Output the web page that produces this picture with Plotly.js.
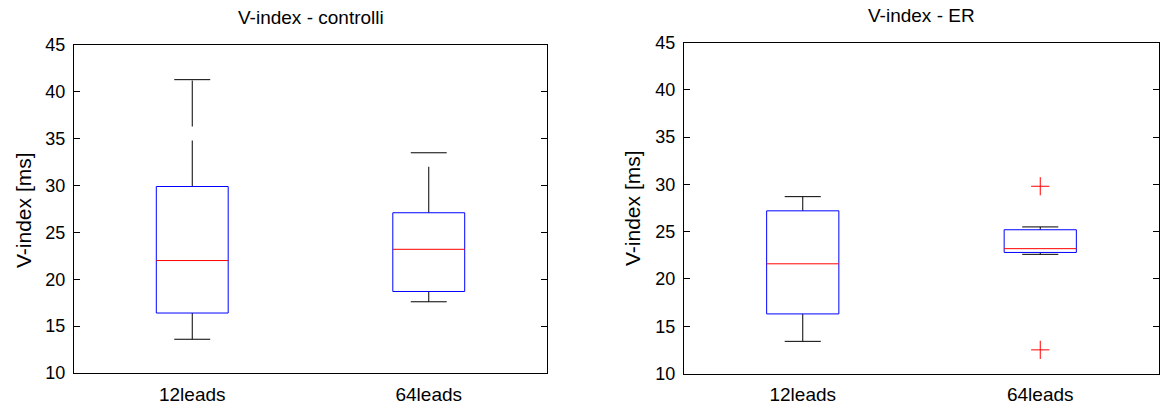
<!DOCTYPE html>
<html>
<head>
<meta charset="utf-8">
<script src="https://cdn.plot.ly/plotly-3.0.1.min.js"></script>
<style>html,body{margin:0;padding:0;background:#fff;}#chart{width:1160px;height:416px;}</style>
</head>
<body>
<div id="chart"></div>
<script>
// ---- data ----
const categories = ['12leads', '64leads'];
const panelTitles = ['V-index - controlli', 'V-index - ER'];
const yTitle = 'V-index [ms]';

// controlli
const ctrlLow    = [13.6, 17.6];
const ctrlQ1     = [16.4, 18.7];
const ctrlMedian = [22.0, 23.2];
const ctrlQ3     = [29.9, 27.1];
const ctrlHigh   = [41.3, 33.5];
const ctrlOutX   = [];
const ctrlOutY   = [];

// ER
const erLow    = [13.4, 22.6];
const erQ1     = [16.3, 22.8];
const erMedian = [21.6, 23.2];
const erQ3     = [27.2, 25.2];
const erHigh   = [28.7, 25.5];
const erOutX   = ['64leads', '64leads'];
const erOutY   = [29.8, 12.5];

// ---- build ----
const BOX_HW = 0.152, CAP_HW = 0.076;
const traces = [];
function addPanel(low, q1, med, q3, high, outX, outY, xa, ya) {
  categories.forEach((c, i) => {
    const p = i + 1;
    traces.push({x: [p, p], y: [q3[i], high[i]], xaxis: xa, yaxis: ya, mode: 'lines',
      line: {color: '#000', width: 1, dash: '46px,14px'}, hoverinfo: 'skip', showlegend: false});
    traces.push({x: [p, p], y: [q1[i], low[i]], xaxis: xa, yaxis: ya, mode: 'lines',
      line: {color: '#000', width: 1, dash: '46px,14px'}, hoverinfo: 'skip', showlegend: false});
    traces.push({x: [p - CAP_HW, p + CAP_HW, null, p - CAP_HW, p + CAP_HW],
      y: [high[i], high[i], null, low[i], low[i]], xaxis: xa, yaxis: ya, mode: 'lines',
      line: {color: '#000', width: 1}, hoverinfo: 'skip', showlegend: false});
    traces.push({x: [p - BOX_HW, p + BOX_HW, p + BOX_HW, p - BOX_HW, p - BOX_HW],
      y: [q1[i], q1[i], q3[i], q3[i], q1[i]], xaxis: xa, yaxis: ya, mode: 'lines',
      line: {color: '#0000ff', width: 1}, hoverinfo: 'skip', showlegend: false});
    traces.push({x: [p - BOX_HW, p + BOX_HW], y: [med[i], med[i]], xaxis: xa, yaxis: ya, mode: 'lines',
      line: {color: '#ff0000', width: 1}, hoverinfo: 'skip', showlegend: false});
  });
  if (outX.length) {
    traces.push({x: outX.map(c => categories.indexOf(c) + 1), y: outY, xaxis: xa, yaxis: ya,
      mode: 'markers', marker: {symbol: 'cross-thin', size: 13, line: {color: '#ff0000', width: 1}},
      hoverinfo: 'skip', showlegend: false});
  }
}
addPanel(ctrlLow, ctrlQ1, ctrlMedian, ctrlQ3, ctrlHigh, ctrlOutX, ctrlOutY, 'x', 'y');
addPanel(erLow, erQ1, erMedian, erQ3, erHigh, erOutX, erOutY, 'x2', 'y2');

const W = 1160, H = 416;
const font = {family: 'Liberation Sans, Arial, sans-serif', color: '#000'};
function xAxis(dom, anchor) {
  return {domain: dom, anchor: anchor, range: [0.5, 2.5], tickvals: [1, 2], ticktext: categories,
    ticks: '', showgrid: false, zeroline: false, showline: true, linecolor: '#000', linewidth: 1,
    mirror: true, tickfont: Object.assign({size: 19}, font), ticklabelstandoff: 4, fixedrange: true};
}
function yAxis(dom, anchor) {
  return {domain: dom, anchor: anchor, range: [10, 45], dtick: 5, tick0: 10,
    ticks: 'inside', ticklen: 6, tickcolor: '#000', showgrid: false, zeroline: false,
    showline: true, linecolor: '#000', linewidth: 1, mirror: 'ticks',
    tickfont: Object.assign({size: 18}, font), ticklabelstandoff: 4, fixedrange: true};
}
const layout = {
  width: W, height: H, margin: {l: 0, r: 0, t: 0, b: 0},
  paper_bgcolor: '#fff', plot_bgcolor: '#fff', showlegend: false,
  xaxis: xAxis([74 / W, 547 / W], 'y'),
  yaxis: yAxis([1 - 373 / H, 1 - 45 / H], 'x'),
  xaxis2: xAxis([684 / W, 1159 / W], 'y2'),
  yaxis2: yAxis([1 - 373.5 / H, 1 - 42.5 / H], 'x2'),
  annotations: [
    {text: panelTitles[0], xref: 'paper', yref: 'paper', x: 310.5 / W, y: 1 - 18 / H,
      xanchor: 'center', yanchor: 'middle', showarrow: false, font: Object.assign({size: 19}, font)},
    {text: panelTitles[1], xref: 'paper', yref: 'paper', x: 921.5 / W, y: 1 - 16 / H,
      xanchor: 'center', yanchor: 'middle', showarrow: false, font: Object.assign({size: 19}, font)},
    {text: yTitle, xref: 'paper', yref: 'paper', x: 23 / W, y: 1 - 210 / H, textangle: -90,
      xanchor: 'center', yanchor: 'middle', showarrow: false, font: Object.assign({size: 21}, font)},
    {text: yTitle, xref: 'paper', yref: 'paper', x: 632 / W, y: 1 - 208 / H, textangle: -90,
      xanchor: 'center', yanchor: 'middle', showarrow: false, font: Object.assign({size: 21}, font)}
  ]
};
Plotly.newPlot('chart', traces, layout, {staticPlot: true, displayModeBar: false});
</script>
</body>
</html>
